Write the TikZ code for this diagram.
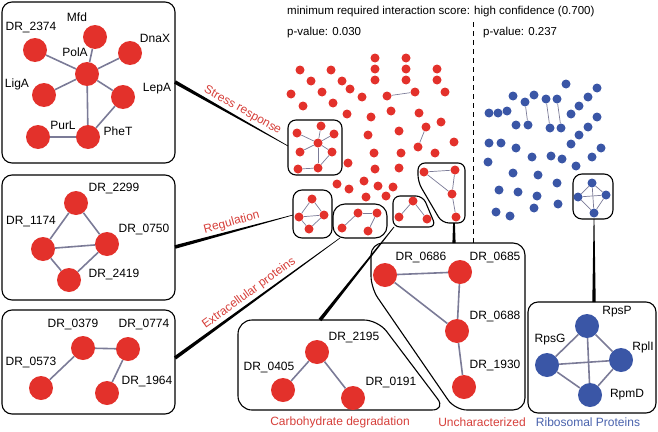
\documentclass[tikz,border=0pt]{standalone}
\usepackage{fontspec}
\setmainfont{Liberation Sans}
\usetikzlibrary{calc}
\definecolor{nred}{HTML}{E3312B}
\definecolor{nblue}{HTML}{3A56A6}
\definecolor{tred}{HTML}{D63F3A}
\definecolor{tblue}{HTML}{4861AC}
\definecolor{ecol}{HTML}{7B7B97}
\tikzset{
 rbig/.style={circle,fill=nred,minimum size=24pt,inner sep=0pt},
 bbig/.style={circle,fill=nblue,minimum size=24pt,inner sep=0pt},
 rdot/.style={circle,fill=nred,minimum size=9pt,inner sep=0pt},
 bdot/.style={circle,fill=nblue,minimum size=9pt,inner sep=0pt},
 bedge/.style={draw=ecol,line width=1.6pt},
 sedge/.style={draw=ecol,line width=0.7pt},
 lab/.style={font=\fontsize{12}{14}\selectfont,inner sep=0pt},
 cat/.style={font=\fontsize{12}{14}\selectfont,text=tred,inner sep=0pt},
 bigbox/.style={draw,line width=1.1pt,rounded corners=10pt},
 smallbox/.style={draw,line width=1.1pt,rounded corners=7pt},
}
\newcommand{\wedgeline}[4]{%
 \fill ($(#1)!#3!90:(#2)$) -- ($(#1)!#3!-90:(#2)$) -- ($(#2)!#4!90:(#1)$) -- ($(#2)!#4!-90:(#1)$) -- cycle;}
\begin{document}
\begin{tikzpicture}[x=1pt,y=-1pt]
\useasboundingbox (0,0) rectangle (658,431);

% header
\node[lab,anchor=west,font=\fontsize{11.5}{13}\selectfont] (title) at (287,12) {minimum required interaction score: high confidence (0.700)};
\node[lab,anchor=west,font=\fontsize{11.5}{13}\selectfont] (pv1) at (287,33) {p-value: 0.030};
\node[lab,anchor=west,font=\fontsize{11.5}{13}\selectfont] (pv2) at (483,33) {p-value: 0.237};
\coordinate (dtop) at (473,22);
\coordinate (dbot) at (473,243);
\draw[line width=1pt,dash pattern=on 5pt off 4pt] (dtop) -- (dbot);

% ---------- big boxes ----------
\draw[bigbox] (2,2) rectangle (175,163);
\draw[bigbox] (2,175) rectangle (175,300);
\draw[bigbox] (2,310) rectangle (175,414);
\draw[bigbox,rounded corners=14pt] (238,320) -- (378,320) -- (446,410) -- (238,410) -- cycle;
\draw[bigbox,rounded corners=12pt] (371,243) -- (525,243) -- (525,410) -- (455,410) -- (371,288) -- cycle;
\draw[bigbox] (528,302) rectangle (656,413);

% ---------- small cluster boxes ----------
\draw[smallbox,rounded corners=8pt] (288,120) rectangle (342,175);
\draw[smallbox,rounded corners=9pt] (293,190) rectangle (332,238);
\draw[smallbox,rounded corners=12pt] (333,204) rectangle (387,238);
\draw[smallbox] (393,196) -- (423,196) -- (436,227) -- (393,227) -- cycle;
\draw[smallbox] (418,163) -- (465,163) -- (465,223) -- (442,223) -- (418,182) -- cycle;
\draw[smallbox,rounded corners=9pt] (573,174) rectangle (613,219);

% ---------- connectors ----------
\coordinate (sA) at (175,82);  \coordinate (sB) at (288,146);
\coordinate (gA) at (175,247); \coordinate (gB) at (293,215);
\coordinate (eA) at (175,358); \coordinate (eB) at (340,238);
\coordinate (cA) at (320,320); \coordinate (cB) at (394,227);
\coordinate (uA) at (454,243); \coordinate (uB) at (454,223);
\coordinate (pA) at (594,302); \coordinate (pB) at (594,219);
\wedgeline{sA}{sB}{1.8pt}{0.3pt}
\wedgeline{gA}{gB}{1.8pt}{0.3pt}
\wedgeline{eA}{eB}{1.8pt}{0.3pt}
\wedgeline{cA}{cB}{1.8pt}{0.4pt}
\wedgeline{uA}{uB}{1.6pt}{0.9pt}
\wedgeline{pA}{pB}{1.7pt}{0.4pt}
\path (sA) -- node[cat,sloped,above=3pt,pos=0.56] {Stress response} (sB);
\path (gA) -- node[cat,sloped,above=3pt,pos=0.5] {Regulation} (gB);
\path (eA) -- node[cat,sloped,above=3pt,pos=0.48] {Extracellular proteins} (eB);

% ---------- bottom category labels ----------
\node[cat] (lcarb) at (340,422) {Carbohydrate degradation};
\node[cat] (lunch) at (482,422) {Uncharacterized};
\node[cat,text=tblue] (lribo) at (588,422) {Ribosomal Proteins};

% ---------- box 1: stress response ----------
\node[rbig] (mfd) at (95,37) {};
\node[rbig] (dr2374) at (35,50) {};
\node[rbig] (dnax) at (130,53) {};
\node[rbig] (pola) at (87,74) {};
\node[rbig] (liga) at (44,95) {};
\node[rbig] (lepa) at (123,97) {};
\node[rbig] (purl) at (38,137) {};
\node[rbig] (phet) at (88,137) {};
\foreach \a/\b in {dr2374/pola,mfd/pola,dnax/pola,liga/pola,lepa/pola,pola/phet,lepa/phet,purl/phet}
  \draw[bedge] (\a) -- (\b);
\node[lab] at (77,17) {Mfd};
\node[lab] at (31,28) {DR\_2374};
\node[lab] at (155,38) {DnaX};
\node[lab] at (75,52) {PolA};
\node[lab] at (17,84) {LigA};
\node[lab] at (157,89) {LepA};
\node[lab] at (63,125) {PurL};
\node[lab] at (118,131) {PheT};

% ---------- box 2: regulation ----------
\node[rbig] (dr2299) at (76,203) {};
\node[rbig] (dr1174) at (43,249) {};
\node[rbig] (dr0750) at (107,244) {};
\node[rbig] (dr2419) at (69,280) {};
\foreach \a/\b in {dr2299/dr1174,dr2299/dr0750,dr1174/dr0750,dr1174/dr2419,dr0750/dr2419}
  \draw[bedge] (\a) -- (\b);
\node[lab] at (114,188) {DR\_2299};
\node[lab] at (31,222) {DR\_1174};
\node[lab] at (144,229) {DR\_0750};
\node[lab] at (114,274) {DR\_2419};

% ---------- box 3: extracellular ----------
\node[rbig] (dr0379) at (83,348) {};
\node[rbig] (dr0774) at (128,349) {};
\node[rbig] (dr0573) at (41,388) {};
\node[rbig] (dr1964) at (107,393) {};
\foreach \a/\b in {dr0379/dr0774,dr0379/dr0573,dr0774/dr1964}
  \draw[bedge] (\a) -- (\b);
\node[lab] at (73,324) {DR\_0379};
\node[lab] at (144,324) {DR\_0774};
\node[lab] at (31,362) {DR\_0573};
\node[lab] at (147,381) {DR\_1964};

% ---------- carbohydrate ----------
\node[rbig] (dr2195) at (317,352) {};
\node[rbig] (dr0405) at (283,390) {};
\node[rbig] (dr0191) at (353,398) {};
\draw[bedge] (dr2195) -- (dr0405);
\draw[bedge] (dr2195) -- (dr0191);
\node[lab] at (354,337) {DR\_2195};
\node[lab] at (269,367) {DR\_0405};
\node[lab] at (391,382) {DR\_0191};

% ---------- uncharacterized ----------
\node[rbig] (dr0686) at (385,275) {};
\node[rbig] (dr0685) at (460,272) {};
\node[rbig] (dr0688) at (457,331) {};
\node[rbig] (dr1930) at (464,387) {};
\foreach \a/\b in {dr0686/dr0685,dr0686/dr0688,dr0685/dr0688,dr0688/dr1930}
  \draw[bedge] (\a) -- (\b);
\node[lab] at (421,257) {DR\_0686};
\node[lab] at (495,257) {DR\_0685};
\node[lab] at (495,316) {DR\_0688};
\node[lab] at (495,365) {DR\_1930};

% ---------- ribosomal ----------
\node[bbig] (rpsp) at (587,326) {};
\node[bbig] (rpsg) at (547,365) {};
\node[bbig] (rpli) at (621,360) {};
\node[bbig] (rpmd) at (590,395) {};
\foreach \a/\b in {rpsp/rpsg,rpsp/rpli,rpsp/rpmd,rpsg/rpli,rpsg/rpmd,rpli/rpmd}
  \draw[bedge] (\a) -- (\b);
\node[lab] at (617,312) {RpsP};
\node[lab] at (550,340) {RpsG};
\node[lab] at (643,347) {RplI};
\node[lab] at (627,395) {RpmD};

% ---------- red scatter ----------
\foreach \p [count=\i] in {(300,70),(331,70),(311,81),(342,81),(350,89),(322,92),(291,94),(362,97),(333,103),(303,106),
 (375,58),(375,69),(375,80),(406,58),(406,69),(406,80),(437,69),(437,80),(445,92),
 (391,111),(419,113),(347,114),(371,117),(441,122),(399,131),
 (368,135),(454,142),(435,153),(374,153),(401,153),(348,163),(375,169),(399,168),
 (337,184),(364,181),(349,189),(378,186),(393,187),(386,196),(366,197)}
  \node[rdot] (r\i) at \p {};
\node[rdot] (ra1) at (387,96) {};
\node[rdot] (ra2) at (415,92) {};
\node[rdot] (rb1) at (426,127) {};
\node[rdot] (rb2) at (418,147) {};
\draw[sedge] (ra1) -- (ra2);
\draw[sedge] (rb1) -- (rb2);

% stress cluster
\node[rdot] (sc) at (318,143) {};
\node[rdot] (s1) at (297,133) {};
\node[rdot] (s2) at (321,126) {};
\node[rdot] (s3) at (334,134) {};
\node[rdot] (s4) at (300,152) {};
\node[rdot] (s5) at (332,152) {};
\node[rdot] (s6) at (318,168) {};
\node[rdot] (s7) at (298,169) {};
\foreach \b in {s1,s2,s3,s4,s5,s6} \draw[sedge] (sc) -- (\b);
\draw[sedge] (s5) -- (s6);
\draw[sedge] (s7) -- (s6);

% regulation cluster
\node[rdot] (gt) at (312,199) {};
\node[rdot] (gl) at (299,217) {};
\node[rdot] (gr) at (324,215) {};
\node[rdot] (gb) at (309,229) {};
\foreach \a/\b in {gt/gl,gt/gr,gl/gr,gl/gb,gr/gb} \draw[sedge] (\a) -- (\b);

% extracellular cluster
\node[rdot] (ea) at (358,213) {};
\node[rdot] (eb) at (377,213) {};
\node[rdot] (ec) at (342,228) {};
\node[rdot] (ed) at (368,231) {};
\foreach \a/\b in {ea/eb,ea/ec,eb/ed} \draw[sedge] (\a) -- (\b);

% carbohydrate cluster
\node[rdot] (ct) at (413,201) {};
\node[rdot] (cl) at (399,217) {};
\node[rdot] (cr) at (427,219) {};
\draw[sedge] (ct) -- (cl);
\draw[sedge] (ct) -- (cr);

% uncharacterized cluster
\node[rdot] (ua) at (424,172) {};
\node[rdot] (ub) at (455,170) {};
\node[rdot] (uc) at (452,194) {};
\node[rdot] (ud) at (456,217) {};
\foreach \a/\b in {ua/ub,ua/uc,ub/uc,uc/ud} \draw[sedge] (\a) -- (\b);

% ---------- blue scatter ----------
\foreach \p [count=\i] in {(566,84),(597,88),(513,96),(534,95),(588,97),(579,106),(571,114),(489,113),(498,113),(507,111),
 (516,125),(597,117),(588,127),(579,135),(571,144),(489,143),(501,143),(516,148),(488,162),(532,157),
 (551,156),(562,159),(601,148),(592,157),(576,166),(513,173),(538,175),(557,183),(499,190),(518,192),
 (537,196),(558,204),(534,208),(496,212),(510,216)}
  \node[bdot] (b\i) at \p {};
\node[bdot] (ba1) at (525,102) {};
\node[bdot] (ba2) at (528,125) {};
\node[bdot] (bb1) at (546,99) {};
\node[bdot] (bb2) at (550,128) {};
\node[bdot] (bc1) at (557,99) {};
\node[bdot] (bc2) at (561,128) {};
\draw[sedge] (ba1) -- (ba2);
\draw[sedge] (bb1) -- (bb2);
\draw[sedge] (bc1) -- (bc2);

% blue cluster
\node[bdot] (pt) at (592,183) {};
\node[bdot] (pl) at (578,197) {};
\node[bdot] (pr) at (606,195) {};
\node[bdot] (pb) at (594,213) {};
\foreach \a/\b in {pt/pl,pt/pr,pt/pb,pl/pr,pl/pb,pr/pb} \draw[sedge] (\a) -- (\b);
\end{tikzpicture}
\end{document}
